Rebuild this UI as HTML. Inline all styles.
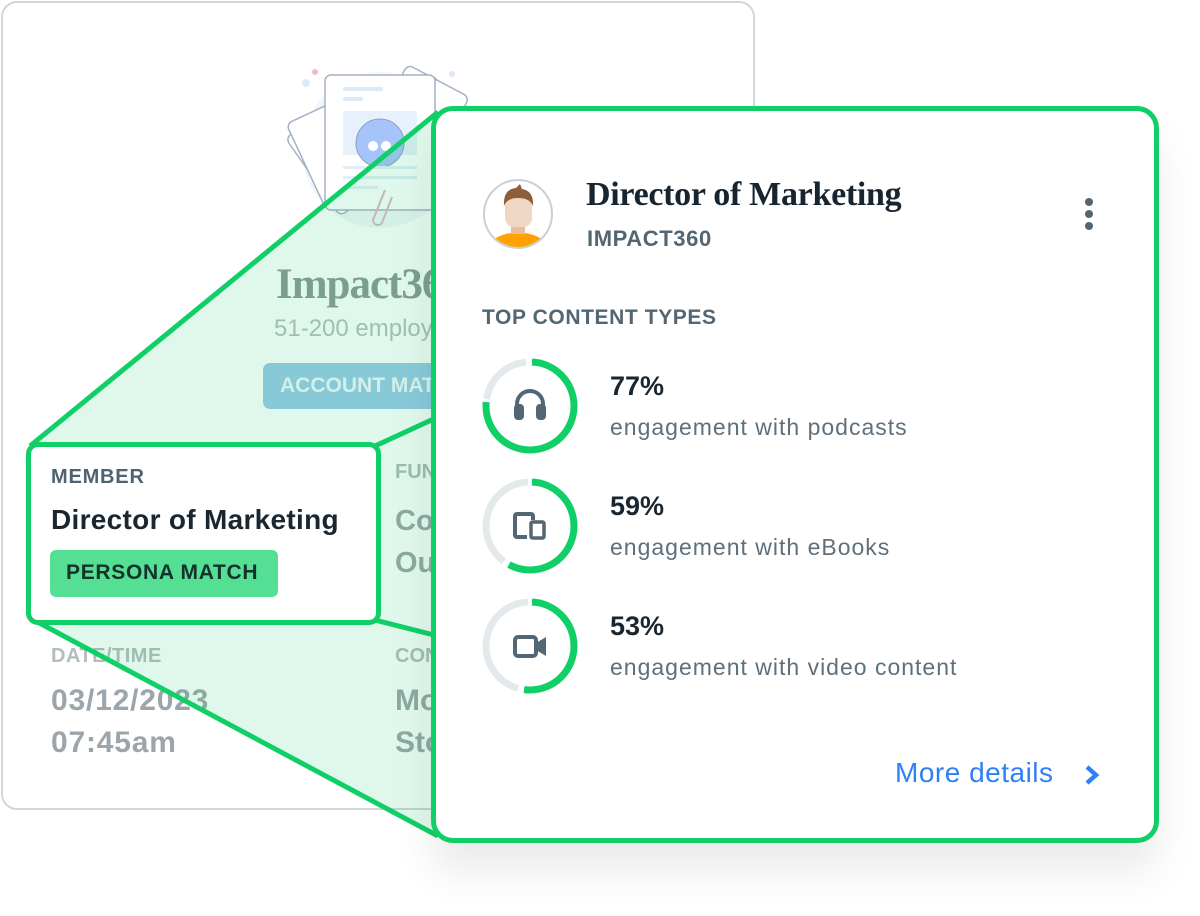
<!DOCTYPE html>
<html><head><meta charset="utf-8"><style>
*{margin:0;padding:0;box-sizing:border-box}
body{width:1200px;height:916px;background:#fff;position:relative;overflow:hidden;font-family:"Liberation Sans",sans-serif}
.a{position:absolute;white-space:nowrap}
.bg{left:1px;top:1px;width:754px;height:809px;border:2px solid #cfd6dc;border-radius:16px;background:#fff}
.g{color:#9ba5ab;font-weight:bold}
</style></head><body>
<div class="a bg"></div>
<svg class="a" style="left:280px;top:50px" width="200" height="190" viewBox="0 0 200 190">
<circle cx="100" cy="100" r="78" fill="#f1f6fb"/>
<circle cx="35" cy="22" r="3" fill="#f2b8cc"/><circle cx="26" cy="33" r="4" fill="#dbe9f8"/><circle cx="152" cy="32" r="6" fill="#f4c2d4"/><circle cx="172" cy="24" r="3" fill="#dbe9f8"/>
<g fill="#fff" stroke="#a6b0c6" stroke-width="1.5">
<rect x="25" y="60" width="70" height="95" rx="6" transform="rotate(-35 60 105)"/>
<rect x="22" y="55" width="70" height="95" rx="6" transform="rotate(-25 57 100)"/>
<rect x="100" y="25" width="70" height="100" rx="6" transform="rotate(28 135 75)"/>
<rect x="45" y="25" width="110" height="135" rx="6"/>
</g>
<rect x="63" y="37" width="40" height="4" rx="2" fill="#dce9f6"/><rect x="63" y="47" width="20" height="4" rx="2" fill="#dce9f6"/>
<rect x="63" y="61" width="74" height="44" fill="#e6f1fb"/>
<circle cx="100" cy="93" r="24" fill="#a7c4fa" stroke="#8f9fb8" stroke-width="1"/>
<circle cx="93" cy="96" r="5" fill="#fff"/><circle cx="106" cy="96" r="5" fill="#fff"/>
<rect x="63" y="116" width="74" height="3" fill="#e2eef7"/><rect x="63" y="126" width="74" height="3" fill="#e2eef7"/><rect x="63" y="136" width="35" height="3" fill="#e2eef7"/>
<path d="M105 140 l-12 30 a5 5 0 0 0 9 3 l10 -26" fill="none" stroke="#e0b4c2" stroke-width="2"/>
</svg>
<div class="a" style="left:276px;top:260px;font:bold 43px 'Liberation Serif',serif;color:#8a9a93;letter-spacing:-1px">Impact360</div>
<div class="a" style="left:274px;top:315px;font-size:24px;color:#b3bfbc">51-200 employees</div>
<div class="a" style="left:263px;top:363px;width:260px;height:46px;background:#9ac9ea;border-radius:7px;color:#eef6fb;font-weight:bold;font-size:21px;padding:11px 0 0 17px">ACCOUNT MATCH</div>
<div class="a g" style="left:395px;top:461px;font-size:20px;color:#b0b9be">FUNCTION</div>
<div class="a g" style="left:395px;top:500px;font-size:29px;line-height:42px">Content<br>Outreach</div>
<div class="a g" style="left:51px;top:645px;font-size:20px;color:#b3bcc1;letter-spacing:0.5px">DATE/TIME</div>
<div class="a g" style="left:51px;top:680px;font-size:30px;line-height:42px;letter-spacing:0.8px">03/12/2023<br>07:45am</div>
<div class="a g" style="left:395px;top:645px;font-size:20px;color:#b3bcc1">CONTENT</div>
<div class="a g" style="left:395px;top:680px;font-size:30px;line-height:42px">Most<br>Stories</div>
<svg class="a" style="left:0;top:0" width="1200" height="916">
<polygon points="30,444 436,112 436,836 30,620" fill="rgba(17,201,98,0.13)"/>
<g stroke="#0fcf66" stroke-width="5" fill="none">
<line x1="30" y1="446" x2="438" y2="112"/>
<line x1="30" y1="618" x2="438" y2="836"/>
<line x1="375" y1="446" x2="438" y2="417"/>
<line x1="375" y1="620" x2="438" y2="636"/>
</g>
</svg>
<div class="a" style="left:26px;top:442px;width:355px;height:183px;background:#fff;border:5px solid #0fcf66;border-radius:12px">
<div class="a" style="left:20px;top:19px;font-size:20px;font-weight:bold;color:#4f6270;letter-spacing:0.8px">MEMBER</div>
<div class="a" style="left:20px;top:57px;font-size:28px;font-weight:bold;color:#1a2630;letter-spacing:0.3px">Director of Marketing</div>
<div class="a" style="left:19px;top:103px;width:228px;height:47px;background:#55df94;border-radius:6px;font-size:21px;font-weight:bold;color:#13322a;padding:11px 0 0 16px;letter-spacing:0.7px">PERSONA MATCH</div>
</div>
<div class="a" style="left:431px;top:106px;width:728px;height:737px;background:#fff;border:5px solid #0fcf66;border-radius:22px;box-shadow:0 30px 40px rgba(0,0,0,0.08)"></div>
<svg class="a" style="left:481px;top:176px" width="76" height="76" viewBox="0 0 76 76">
<defs><clipPath id="c"><circle cx="37" cy="38" r="33"/></clipPath></defs>
<circle cx="37" cy="38" r="34" fill="#fff" stroke="#c7d0d8" stroke-width="2"/>
<g clip-path="url(#c)">
<path d="M6 72 Q12 58 37 56 Q62 58 68 72Z" fill="#ffa200"/>
<rect x="30" y="44" width="14" height="14" fill="#e6bfa0"/>
<rect x="24" y="18" width="27" height="33" rx="9" fill="#efd7c3"/>
<path d="M23 30 Q22 13 35 12 l4-4 l2 5 Q53 15 52 30 Q49 22 37 22 Q26 22 23 30Z" fill="#8b5e3c"/>
</g>
</svg>
<div class="a" style="left:586px;top:176px;font:bold 34px 'Liberation Serif',serif;color:#182430;letter-spacing:-0.3px">Director of Marketing</div>
<div class="a" style="left:587px;top:226px;font-size:22px;font-weight:bold;color:#526673;letter-spacing:0.6px">IMPACT360</div>
<div class="a" style="left:1085px;top:198px;width:9px;height:33px">
<div style="width:8px;height:8px;border-radius:50%;background:#526673;margin-bottom:4px"></div>
<div style="width:8px;height:8px;border-radius:50%;background:#526673;margin-bottom:4px"></div>
<div style="width:8px;height:8px;border-radius:50%;background:#526673"></div></div>
<div class="a" style="left:482px;top:306px;font-size:21px;font-weight:bold;color:#526673;letter-spacing:0.6px">TOP CONTENT TYPES</div>
<svg class="a" style="left:470px;top:340px" width="130" height="370">
<g fill="none" stroke-width="7">
<circle cx="60" cy="66" r="44" stroke="#e4e9ec" stroke-dasharray="58 300" stroke-dashoffset="-214" transform="rotate(-90 60 66)"/>
<circle cx="60" cy="66" r="44" stroke="#0fcf66" stroke-dasharray="209 300" stroke-dashoffset="-2" transform="rotate(-90 60 66)"/>
<circle cx="60" cy="186" r="44" stroke="#e4e9ec" stroke-dasharray="108 300" stroke-dashoffset="-166" transform="rotate(-90 60 186)"/>
<circle cx="60" cy="186" r="44" stroke="#0fcf66" stroke-dasharray="158 300" stroke-dashoffset="-2" transform="rotate(-90 60 186)"/>
<circle cx="60" cy="306" r="44" stroke="#e4e9ec" stroke-dasharray="124 300" stroke-dashoffset="-150" transform="rotate(-90 60 306)"/>
<circle cx="60" cy="306" r="44" stroke="#0fcf66" stroke-dasharray="142 300" stroke-dashoffset="-2" transform="rotate(-90 60 306)"/>
</g>
<path d="M47 74 V64 a13 13 0 0 1 26 0 V74" fill="none" stroke="#526673" stroke-width="4"/>
<rect x="44" y="64" width="10" height="16" rx="4" fill="#526673"/><rect x="66" y="64" width="10" height="16" rx="4" fill="#526673"/>
<path d="M57 197 h-10 a2 2 0 0 1-2-2 v-19 a2 2 0 0 1 2-2 h14 a2 2 0 0 1 2 2 v4" fill="none" stroke="#526673" stroke-width="4"/>
<rect x="61" y="182" width="13" height="16" rx="1.5" fill="none" stroke="#526673" stroke-width="3.5"/>
<rect x="45" y="297" width="21" height="19" rx="3" fill="none" stroke="#526673" stroke-width="4"/>
<path d="M66 303 l10-6 v19 l-10-6z" fill="#526673"/>
</svg>
<div class="a" style="left:610px;top:371px;font-size:27px;font-weight:bold;color:#1a2630">77%</div>
<div class="a" style="left:610px;top:414px;font-size:23px;color:#5e707c;letter-spacing:1px">engagement with podcasts</div>
<div class="a" style="left:610px;top:491px;font-size:27px;font-weight:bold;color:#1a2630">59%</div>
<div class="a" style="left:610px;top:534px;font-size:23px;color:#5e707c;letter-spacing:1px">engagement with eBooks</div>
<div class="a" style="left:610px;top:611px;font-size:27px;font-weight:bold;color:#1a2630">53%</div>
<div class="a" style="left:610px;top:654px;font-size:23px;color:#5e707c;letter-spacing:1px">engagement with video content</div>
<div class="a" style="left:895px;top:757px;font-size:28px;color:#2f7ff5;letter-spacing:0.5px">More details</div>
<svg class="a" style="left:1083px;top:764px" width="20" height="22"><path d="M4 3 l9 8 l-9 8" fill="none" stroke="#2f7ff5" stroke-width="4.5"/></svg>
</body></html>
